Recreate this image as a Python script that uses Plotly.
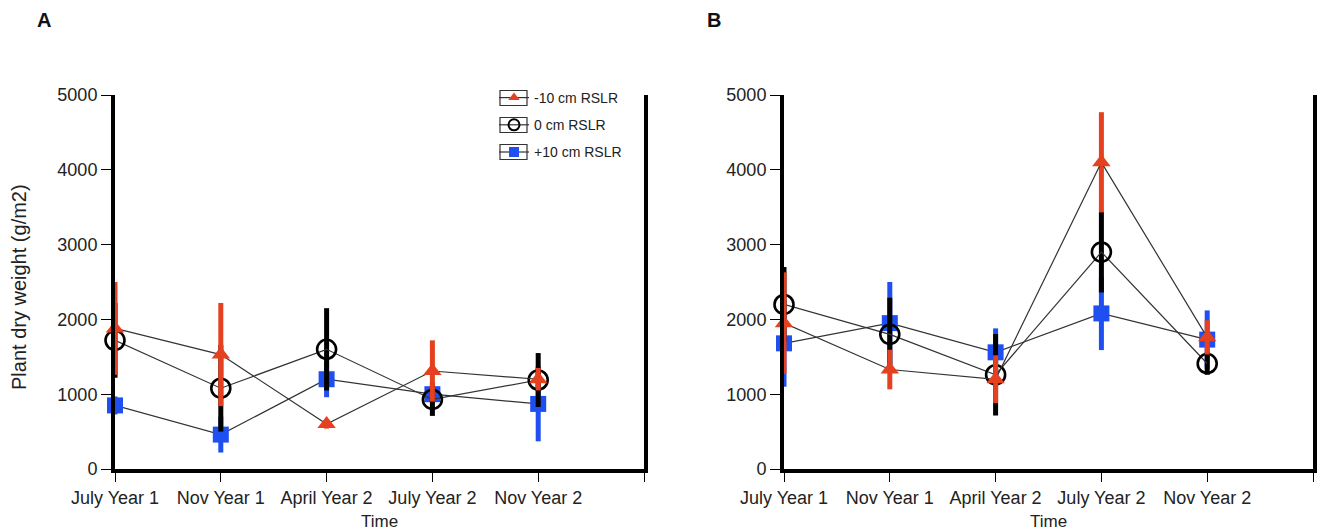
import plotly.graph_objects as go

# Sampling dates
categories = ["July Year 1", "Nov Year 1", "April Year 2", "July Year 2", "Nov Year 2"]

# Panel A: plant dry weight (g/m2), means and error half-widths
a_minus10 = [1880, 1530, 600, 1310, 1200]
a_minus10_err = [620, 690, 60, 410, 150]
a_zero = [1720, 1080, 1600, 930, 1190]
a_zero_err = [500, 580, 550, 220, 360]
a_plus10 = [850, 460, 1200, 1000, 870]
a_plus10_err = [120, 240, 240, 100, 500]

# Panel B: plant dry weight (g/m2), means and error half-widths
b_minus10 = [1950, 1330, 1200, 4100, 1760]
b_minus10_err = [680, 265, 320, 670, 230]
b_zero = [2200, 1800, 1260, 2900, 1410]
b_zero_err = [500, 490, 545, 540, 150]
b_plus10 = [1680, 1950, 1560, 2080, 1730]
b_plus10_err = [580, 550, 320, 490, 390]

y_ticks = [0, 1000, 2000, 3000, 4000, 5000]

RED = "#e5401f"
BLUE = "#1f4ff0"
BLACK = "#000000"
LINE = "#333333"
TEXT = "#222222"
FONT = "Liberation Sans, Arial, Helvetica, sans-serif"

W, H = 1318, 530
x_pos = list(range(len(categories)))

series_style = {
    "+10 cm RSLR": dict(color=BLUE, symbol="square", size=16, key_size=10, rank=3,
                        line=dict(width=0)),
    "0 cm RSLR": dict(color="rgba(0,0,0,0)", symbol="circle", size=19, key_size=11,
                      rank=2, line=dict(color=BLACK, width=2.6)),
    "-10 cm RSLR": dict(color=RED, symbol="triangle-up", size=16, key_size=10, rank=1,
                        line=dict(width=0)),
}
bar_colour = {"+10 cm RSLR": BLUE, "0 cm RSLR": BLACK, "-10 cm RSLR": RED}
draw_order = ["+10 cm RSLR", "0 cm RSLR", "-10 cm RSLR"]

panels = [
    ("x", "y", {
        "+10 cm RSLR": (a_plus10, a_plus10_err),
        "0 cm RSLR": (a_zero, a_zero_err),
        "-10 cm RSLR": (a_minus10, a_minus10_err),
    }),
    ("x2", "y2", {
        "+10 cm RSLR": (b_plus10, b_plus10_err),
        "0 cm RSLR": (b_zero, b_zero_err),
        "-10 cm RSLR": (b_minus10, b_minus10_err),
    }),
]

fig = go.Figure()
for xa, ya, series in panels:
    for name in draw_order:
        vals, errs = series[name]
        st = series_style[name]
        fig.add_trace(go.Scatter(
            x=x_pos, y=vals, name=name, xaxis=xa, yaxis=ya,
            mode="lines+markers",
            line=dict(color=LINE, width=1.2),
            marker=dict(color=st["color"], symbol=st["symbol"], size=st["size"],
                        line=st["line"]),
            error_y=dict(type="data", array=errs, visible=True,
                         color=bar_colour[name], thickness=5, width=0),
            cliponaxis=False,
            showlegend=False,
            legendgroup=name,
        ))

# Legend keys with smaller symbols (no data of their own)
for name in draw_order:
    st = series_style[name]
    key_line = dict(st["line"])
    if key_line.get("width"):
        key_line["width"] = 2
    fig.add_trace(go.Scatter(
        x=[None], y=[None], name=name, mode="lines+markers",
        line=dict(color=LINE, width=1.2),
        marker=dict(color=st["color"], symbol=st["symbol"], size=st["key_size"],
                    line=key_line),
        legendgroup=name, legendrank=st["rank"], showlegend=True,
    ))

px = lambda v: v / W
py = lambda v: 1 - v / H

dom_a = [px(115), px(644)]
dom_b = [px(784), px(1313)]
dom_y = [py(469), py(95)]

xaxis_common = dict(
    range=[0, 5], tickvals=list(range(len(categories) + 1)),
    ticktext=categories + [""],
    showline=True, linecolor=BLACK, linewidth=4, mirror=False,
    ticks="outside", ticklen=9, tickwidth=1.3, tickcolor=BLACK,
    showgrid=False, zeroline=False, automargin=False,
    tickfont=dict(family=FONT, size=18, color=TEXT),
)
yaxis_common = dict(
    range=[0, 5000], tickvals=y_ticks,
    showline=True, linecolor=BLACK, linewidth=4, mirror=True,
    ticks="outside", ticklen=10, tickwidth=1.3, tickcolor=BLACK,
    showgrid=False, zeroline=False, automargin=False,
    tickfont=dict(family=FONT, size=18, color=TEXT),
    domain=dom_y,
)

# Frames drawn around each legend key
legend_rows = [98, 125, 152]
key_boxes = [
    dict(type="rect", xref="paper", yref="paper",
         x0=px(500), x1=px(527), y0=py(r - 7.5), y1=py(r + 7.5),
         line=dict(color="#333333", width=1.2), fillcolor="rgba(0,0,0,0)")
    for r in legend_rows
]

fig.update_layout(
    template="none",
    width=W, height=H,
    margin=dict(l=0, r=0, t=0, b=0),
    paper_bgcolor="white", plot_bgcolor="white",
    font=dict(family=FONT, color=TEXT),
    xaxis={**xaxis_common, "domain": dom_a, "anchor": "y"},
    yaxis={**yaxis_common, "anchor": "x"},
    xaxis2={**xaxis_common, "domain": dom_b, "anchor": "y2"},
    yaxis2={**yaxis_common, "anchor": "x2"},
    legend=dict(
        x=px(494), y=py(82), xanchor="left", yanchor="top",
        font=dict(family=FONT, size=14, color=TEXT),
        bgcolor="rgba(0,0,0,0)", itemwidth=30,
        tracegroupgap=6,
    ),
    shapes=key_boxes,
    annotations=[
        dict(text="<b>A</b>", x=px(44), y=py(20), xref="paper", yref="paper",
             xanchor="center", yanchor="middle", showarrow=False,
             font=dict(family=FONT, size=20, color="#111111")),
        dict(text="<b>B</b>", x=px(714), y=py(20), xref="paper", yref="paper",
             xanchor="center", yanchor="middle", showarrow=False,
             font=dict(family=FONT, size=20, color="#111111")),
        dict(text="Plant dry weight (g/m2)", textangle=-90,
             x=px(19), y=py(287), xref="paper", yref="paper",
             xanchor="center", yanchor="middle", showarrow=False,
             font=dict(family=FONT, size=20, color=TEXT)),
        dict(text="Time", x=px(379), y=py(521), xref="paper", yref="paper",
             xanchor="center", yanchor="middle", showarrow=False,
             font=dict(family=FONT, size=17, color=TEXT)),
        dict(text="Time", x=px(1048), y=py(521), xref="paper", yref="paper",
             xanchor="center", yanchor="middle", showarrow=False,
             font=dict(family=FONT, size=17, color=TEXT)),
    ],
)

fig.write_html("out.html")
